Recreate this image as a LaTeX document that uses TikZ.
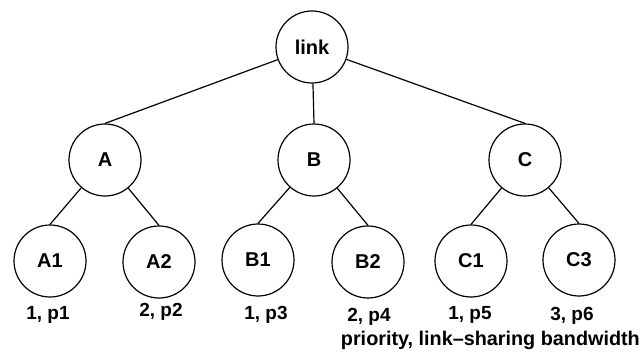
\documentclass[tikz,border=0pt]{standalone}
\usepackage{fontspec}
\setmainfont{Liberation Sans}
\begin{document}
\begin{tikzpicture}[x=1pt,y=-1pt,
  nd/.style={circle,draw,line width=1.2pt,minimum size=72pt,inner sep=0pt,font=\fontsize{20}{22}\selectfont\bfseries},
  lbl/.style={font=\fontsize{19}{21}\selectfont\bfseries,inner sep=0pt},
  edge/.style={line width=1.2pt}]
\useasboundingbox (0,0) rectangle (643,361);
\node[nd] (link) at (312,47) {link};
\node[nd] (A) at (105,160) {A};
\node[nd] (B) at (314,160) {B};
\node[nd] (C) at (525,160) {C};
\node[nd] (A1) at (50,261) {A1};
\node[nd] (A2) at (159,262) {A2};
\node[nd] (B1) at (258,260) {B1};
\node[nd] (B2) at (368,262) {B2};
\node[nd] (C1) at (471,261) {C1};
\node[nd] (C3) at (579,260) {C3};
\draw[edge] (link) -- (A.north);
\draw[edge] (link) -- (B.north);
\draw[edge] (link) -- (C.north);
\draw[edge] (A) -- (A1.north);
\draw[edge] (A) -- (A2.north);
\draw[edge] (B) -- (B1.north);
\draw[edge] (B) -- (B2.north);
\draw[edge] (C) -- (C1.north);
\draw[edge] (C) -- (C3.north);
\node[lbl] (lA1) at (48,315) {1, p1};
\node[lbl] (lA2) at (161,312) {2, p2};
\node[lbl] (lB1) at (266,315) {1, p3};
\node[lbl] (lB2) at (369,317) {2, p4};
\node[lbl] (lC1) at (470,315) {1, p5};
\node[lbl] (lC3) at (572,316) {3, p6};
\node[lbl,font=\fontsize{19.8}{22}\selectfont\bfseries,anchor=east] (cap) at (640,340) {priority, link–sharing bandwidth};
\end{tikzpicture}
\end{document}
